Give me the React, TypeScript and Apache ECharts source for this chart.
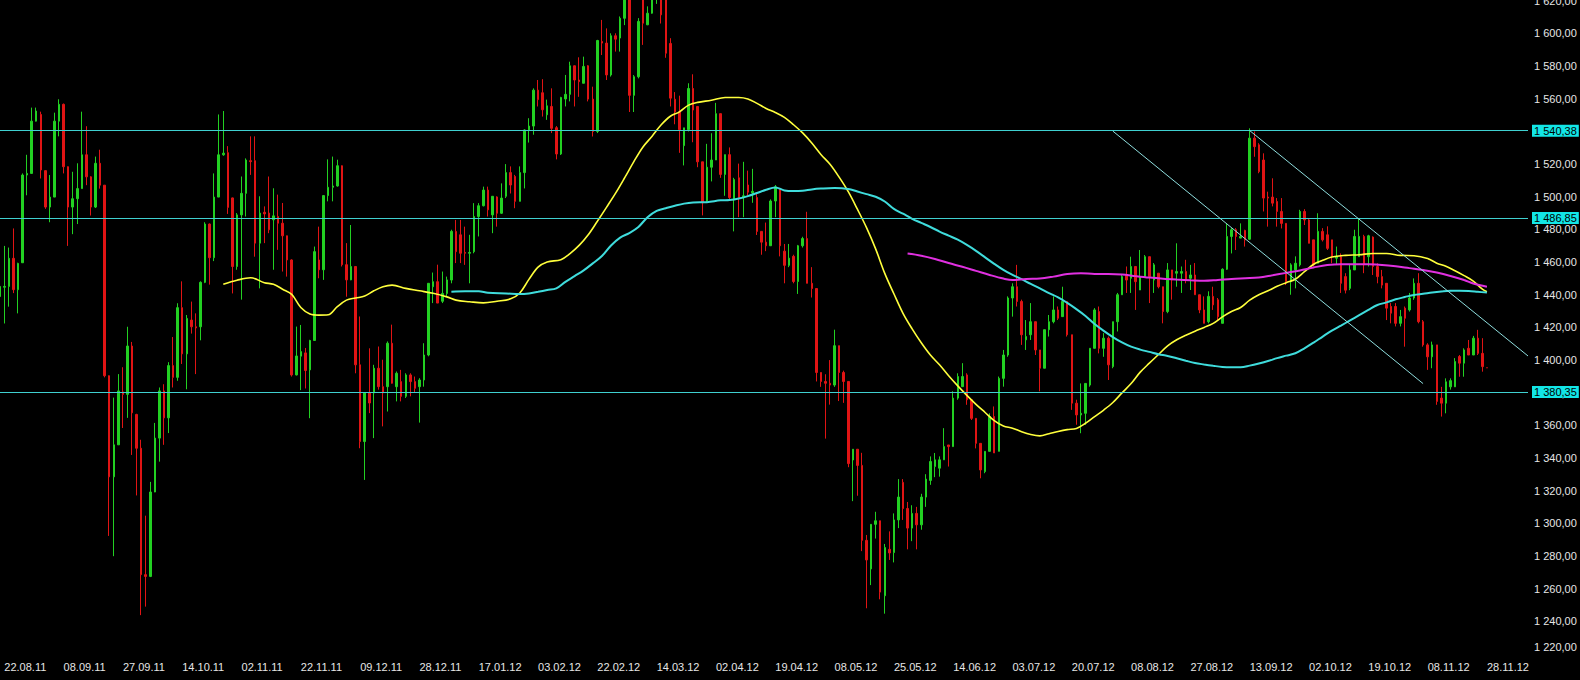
import React, { useEffect, useRef } from "react";
import * as echarts from "echarts";

// ---------- data ----------
const AXIS_SLOTS = 336; // bar slots on the time axis (last bars are empty space on the right)
const tickLabels = [
  "22.08.11", "08.09.11", "27.09.11", "14.10.11", "02.11.11", "22.11.11", "09.12.11",
  "28.12.11", "17.01.12", "03.02.12", "22.02.12", "14.03.12", "02.04.12", "19.04.12",
  "08.05.12", "25.05.12", "14.06.12", "03.07.12", "20.07.12", "08.08.12", "27.08.12",
  "13.09.12", "02.10.12", "19.10.12", "08.11.12", "28.11.12",
];
const TICK_START = 1;
const TICK_STEP = 13;

// [open, close, low, high]
const ohlc: number[][] = [
  [1438.8, 1445.0, 1407.9, 1461.6], [1444.5, 1445.0, 1422.3, 1469.8], [1445.0, 1462.2, 1432.6, 1468.8],
  [1462.2, 1443.0, 1440.9, 1480.5], [1443.0, 1459.1, 1428.5, 1459.5], [1459.5, 1513.2, 1459.5, 1514.2],
  [1513.2, 1514.2, 1500.8, 1525.6], [1514.2, 1546.2, 1514.2, 1554.5], [1546.2, 1552.4, 1546.0, 1554.5],
  [1550.3, 1516.3, 1511.1, 1552.0], [1515.9, 1493.6, 1492.5, 1516.0], [1493.6, 1499.7, 1484.3, 1513.2],
  [1499.7, 1546.2, 1499.7, 1551.4], [1546.2, 1556.5, 1536.9, 1559.6], [1556.5, 1518.3, 1514.2, 1557.0],
  [1518.3, 1493.6, 1469.8, 1518.5], [1493.6, 1498.7, 1477.0, 1515.2], [1498.7, 1504.9, 1483.2, 1520.4],
  [1504.9, 1525.6, 1504.9, 1552.0], [1525.6, 1512.1, 1507.0, 1543.1], [1512.1, 1493.6, 1488.4, 1512.5],
  [1493.6, 1520.4, 1493.0, 1524.5], [1520.4, 1507.0, 1504.9, 1528.7], [1507.0, 1390.3, 1389.3, 1507.0],
  [1390.3, 1328.4, 1292.2, 1390.5], [1328.4, 1348.0, 1279.8, 1376.9], [1348.0, 1381.0, 1348.0, 1391.3],
  [1380.4, 1378.9, 1358.3, 1395.5], [1378.9, 1408.5, 1364.5, 1420.3], [1408.5, 1367.6, 1341.8, 1411.0],
  [1366.6, 1345.9, 1317.0, 1367.0], [1345.9, 1268.5, 1243.7, 1351.1], [1268.5, 1267.4, 1248.9, 1304.6],
  [1267.4, 1319.1, 1267.0, 1325.3], [1319.1, 1352.1, 1319.0, 1361.4], [1352.1, 1381.0, 1337.7, 1383.1],
  [1381.0, 1364.5, 1348.0, 1385.1], [1364.5, 1396.5, 1355.2, 1398.6], [1396.5, 1389.3, 1383.1, 1414.0],
  [1389.3, 1432.0, 1387.2, 1434.7], [1432.0, 1403.7, 1397.5, 1448.1], [1403.7, 1425.4, 1382.0, 1427.5],
  [1424.4, 1420.3, 1416.1, 1435.7], [1420.3, 1419.6, 1391.3, 1428.5], [1420.3, 1447.5, 1412.0, 1448.1],
  [1447.5, 1483.2, 1447.0, 1484.3], [1483.2, 1462.6, 1446.1, 1483.5], [1462.6, 1499.7, 1460.5, 1514.2],
  [1499.7, 1525.6, 1499.7, 1550.3], [1525.6, 1526.6, 1525.0, 1552.4], [1526.9, 1493.4, 1489.4, 1530.9],
  [1499.2, 1457.2, 1440.7, 1499.4], [1457.2, 1488.8, 1455.2, 1489.9], [1488.8, 1502.0, 1436.9, 1512.3],
  [1502.0, 1522.4, 1487.8, 1523.4], [1522.0, 1521.4, 1513.3, 1536.9], [1522.0, 1471.5, 1463.2, 1536.9],
  [1471.5, 1489.9, 1443.8, 1500.2], [1490.4, 1489.4, 1471.5, 1494.0], [1489.9, 1479.7, 1477.6, 1512.3],
  [1485.8, 1488.2, 1455.2, 1505.1], [1487.8, 1483.7, 1467.4, 1501.2], [1483.7, 1476.0, 1454.1, 1496.1],
  [1476.0, 1461.2, 1451.0, 1476.1], [1461.2, 1390.8, 1389.8, 1461.6], [1390.8, 1402.4, 1390.5, 1420.4],
  [1402.3, 1405.1, 1381.5, 1421.4], [1404.3, 1393.5, 1382.5, 1407.3], [1393.9, 1411.9, 1364.3, 1412.3],
  [1411.9, 1466.3, 1411.9, 1469.4], [1461.2, 1455.2, 1450.0, 1481.6], [1455.2, 1500.6, 1449.0, 1500.9],
  [1500.6, 1505.7, 1497.1, 1522.8], [1505.7, 1506.5, 1497.1, 1524.5], [1506.5, 1518.9, 1506.1, 1522.6],
  [1518.9, 1458.3, 1457.2, 1519.1], [1458.3, 1449.0, 1438.7, 1471.5], [1449.0, 1457.2, 1448.8, 1482.6],
  [1457.2, 1397.0, 1391.8, 1457.3], [1397.0, 1350.0, 1345.9, 1426.6], [1350.0, 1379.8, 1326.5, 1379.8],
  [1379.8, 1373.6, 1367.4, 1407.1], [1379.8, 1394.9, 1352.1, 1397.0], [1394.9, 1383.6, 1381.8, 1408.2],
  [1383.6, 1379.8, 1359.3, 1400.1], [1383.6, 1410.2, 1368.4, 1411.3], [1410.2, 1385.7, 1385.5, 1421.6],
  [1383.6, 1391.8, 1374.6, 1392.9], [1386.7, 1377.7, 1374.6, 1393.9], [1377.7, 1390.8, 1376.7, 1391.8],
  [1390.8, 1386.7, 1377.7, 1391.8], [1386.7, 1382.6, 1379.8, 1389.8], [1383.6, 1387.7, 1361.6, 1388.8],
  [1387.7, 1403.0, 1383.6, 1410.2], [1403.0, 1446.9, 1402.2, 1446.9], [1444.8, 1447.9, 1434.8, 1453.5],
  [1447.9, 1434.8, 1434.8, 1458.3], [1435.9, 1440.7, 1434.8, 1454.1], [1440.7, 1449.0, 1439.0, 1451.0],
  [1448.9, 1478.7, 1446.9, 1479.7], [1478.7, 1466.3, 1459.3, 1485.7], [1476.6, 1465.3, 1459.3, 1485.7],
  [1465.8, 1465.3, 1458.2, 1481.6], [1465.3, 1465.8, 1446.9, 1476.6], [1466.3, 1487.8, 1465.3, 1496.0],
  [1487.8, 1494.4, 1475.6, 1496.0], [1494.4, 1504.0, 1494.0, 1506.1], [1504.0, 1491.9, 1487.8, 1506.1],
  [1488.8, 1500.2, 1477.6, 1500.2], [1499.8, 1489.8, 1481.6, 1500.2], [1489.8, 1499.1, 1489.4, 1508.1],
  [1500.2, 1514.7, 1499.1, 1519.9], [1514.7, 1507.1, 1501.9, 1518.5], [1512.3, 1497.1, 1492.9, 1513.3],
  [1497.1, 1514.7, 1497.1, 1518.5], [1514.7, 1540.8, 1505.0, 1541.2], [1540.8, 1543.2, 1533.1, 1548.0],
  [1543.2, 1565.2, 1537.9, 1566.3], [1565.2, 1559.4, 1555.2, 1571.4], [1563.6, 1553.2, 1549.0, 1571.9],
  [1550.1, 1555.6, 1547.0, 1559.4], [1555.2, 1541.8, 1538.9, 1566.3], [1542.2, 1526.1, 1522.8, 1543.2],
  [1526.1, 1560.7, 1525.5, 1561.1], [1559.8, 1562.6, 1555.2, 1574.5], [1562.6, 1580.1, 1558.3, 1582.6],
  [1580.1, 1571.4, 1555.2, 1580.3], [1571.4, 1570.4, 1561.1, 1585.3], [1569.4, 1579.7, 1569.4, 1585.7],
  [1580.1, 1559.7, 1558.3, 1580.5], [1559.7, 1539.9, 1536.8, 1567.3], [1539.9, 1595.6, 1538.9, 1596.0],
  [1595.0, 1594.0, 1586.7, 1608.2], [1594.0, 1574.5, 1571.4, 1603.0], [1574.5, 1598.5, 1573.5, 1600.0],
  [1598.5, 1596.4, 1588.8, 1600.0], [1597.1, 1609.2, 1588.8, 1610.3], [1609.2, 1621.0, 1605.0, 1624.0],
  [1621.0, 1562.0, 1551.8, 1624.0], [1562.0, 1573.4, 1551.8, 1574.4], [1573.4, 1607.3, 1572.4, 1609.3],
  [1621.0, 1606.2, 1592.9, 1625.0], [1605.2, 1612.3, 1605.0, 1616.5], [1612.3, 1625.0, 1612.0, 1630.0],
  [1622.0, 1628.0, 1618.0, 1634.0], [1626.0, 1611.3, 1606.0, 1630.0], [1621.0, 1587.8, 1585.0, 1625.0],
  [1593.8, 1560.3, 1555.2, 1597.0], [1559.6, 1551.9, 1544.3, 1564.0], [1551.9, 1541.0, 1526.8, 1561.8],
  [1531.2, 1542.1, 1519.1, 1542.1], [1541.0, 1566.2, 1539.9, 1569.4], [1566.2, 1553.0, 1533.3, 1574.9],
  [1555.2, 1521.3, 1518.0, 1555.2], [1521.3, 1496.2, 1488.5, 1521.3], [1497.3, 1518.0, 1496.2, 1532.3],
  [1518.0, 1522.4, 1509.3, 1538.8], [1522.4, 1550.8, 1522.4, 1557.4], [1550.8, 1513.6, 1511.5, 1550.8],
  [1513.6, 1525.7, 1500.5, 1525.7], [1525.7, 1499.4, 1497.3, 1530.1], [1498.3, 1510.4, 1478.7, 1511.5],
  [1511.5, 1499.4, 1487.4, 1520.2], [1499.4, 1500.5, 1487.4, 1521.3], [1507.1, 1502.7, 1500.5, 1515.9],
  [1502.3, 1503.2, 1496.2, 1517.0], [1499.4, 1478.7, 1476.5, 1502.7], [1478.7, 1472.1, 1464.4, 1478.7],
  [1472.1, 1469.9, 1466.6, 1484.1], [1469.9, 1497.3, 1469.9, 1498.3], [1497.3, 1506.0, 1487.4, 1507.1],
  [1504.9, 1469.9, 1463.4, 1504.9], [1466.6, 1457.9, 1446.9, 1471.0], [1457.9, 1462.3, 1456.8, 1471.0],
  [1463.4, 1448.0, 1446.9, 1464.4], [1448.0, 1469.9, 1440.4, 1470.4], [1469.9, 1474.3, 1468.8, 1475.4],
  [1474.3, 1446.9, 1446.9, 1490.7], [1446.9, 1443.7, 1438.2, 1456.8], [1443.7, 1392.3, 1386.8, 1443.7],
  [1392.3, 1386.8, 1383.5, 1392.3], [1386.8, 1385.7, 1351.8, 1391.2], [1385.7, 1384.6, 1372.6, 1399.9],
  [1384.6, 1408.7, 1383.5, 1418.5], [1408.7, 1392.3, 1374.8, 1408.7], [1392.3, 1386.8, 1373.7, 1393.4],
  [1386.8, 1336.5, 1334.3, 1386.8], [1338.7, 1345.3, 1313.5, 1345.3], [1345.3, 1335.4, 1316.8, 1345.3],
  [1335.4, 1289.5, 1282.9, 1343.1], [1289.5, 1277.5, 1247.9, 1292.8], [1272.0, 1299.3, 1262.1, 1299.3],
  [1299.3, 1301.5, 1290.6, 1307.0], [1301.5, 1257.8, 1253.4, 1301.5], [1255.6, 1285.1, 1244.6, 1287.3],
  [1284.0, 1281.8, 1277.5, 1295.0], [1282.0, 1302.0, 1276.0, 1306.0], [1302.0, 1316.0, 1297.0, 1327.0],
  [1325.0, 1309.0, 1302.0, 1327.0], [1309.0, 1297.0, 1284.0, 1313.0], [1297.0, 1306.0, 1289.0, 1311.0],
  [1306.0, 1299.0, 1284.0, 1310.0], [1299.0, 1316.0, 1296.0, 1318.0], [1316.0, 1327.0, 1310.0, 1330.0],
  [1326.2, 1337.8, 1323.5, 1340.9], [1334.7, 1338.8, 1328.2, 1343.0], [1333.7, 1338.8, 1328.5, 1340.9],
  [1338.8, 1346.9, 1338.8, 1358.2], [1347.9, 1346.9, 1334.7, 1347.9], [1346.9, 1376.6, 1346.9, 1380.8],
  [1376.6, 1389.8, 1375.6, 1391.8], [1383.6, 1389.8, 1383.6, 1398.0], [1390.8, 1375.6, 1372.5, 1391.8],
  [1375.6, 1364.2, 1363.2, 1375.6], [1364.2, 1348.9, 1345.8, 1364.2], [1348.9, 1332.6, 1327.5, 1348.9],
  [1331.6, 1344.0, 1330.6, 1344.0], [1344.0, 1365.3, 1344.0, 1367.3], [1365.3, 1343.0, 1343.0, 1371.5],
  [1344.0, 1388.7, 1344.0, 1389.8], [1388.7, 1403.0, 1383.6, 1406.1], [1403.0, 1437.9, 1401.9, 1438.9],
  [1437.9, 1444.8, 1426.5, 1446.9], [1444.8, 1435.8, 1432.7, 1458.2], [1435.8, 1415.4, 1409.2, 1436.9],
  [1412.3, 1414.3, 1406.1, 1424.4], [1415.4, 1423.4, 1412.2, 1434.8], [1423.4, 1406.1, 1403.0, 1423.4],
  [1406.1, 1394.9, 1380.8, 1406.1], [1394.9, 1418.5, 1394.9, 1418.5], [1418.5, 1423.4, 1414.3, 1427.5],
  [1423.4, 1430.6, 1422.4, 1438.9], [1430.6, 1425.5, 1424.4, 1432.7], [1426.5, 1435.8, 1426.5, 1444.8],
  [1435.8, 1415.4, 1414.3, 1435.8], [1415.4, 1373.5, 1369.4, 1415.4], [1373.5, 1366.3, 1360.3, 1375.6],
  [1366.3, 1367.3, 1355.1, 1385.6], [1367.3, 1385.6, 1360.3, 1385.6], [1384.6, 1407.1, 1383.6, 1407.1],
  [1407.1, 1430.6, 1407.1, 1431.7], [1429.6, 1407.1, 1404.0, 1432.7], [1407.1, 1413.3, 1401.9, 1416.4],
  [1413.3, 1397.0, 1387.7, 1414.3], [1395.9, 1423.4, 1394.9, 1423.4], [1423.4, 1439.9, 1417.4, 1441.0],
  [1439.9, 1451.0, 1439.9, 1452.0], [1452.0, 1448.9, 1441.0, 1457.2], [1450.0, 1457.2, 1441.0, 1463.2],
  [1457.2, 1447.9, 1430.6, 1457.2], [1442.8, 1451.0, 1442.8, 1467.3], [1451.0, 1463.2, 1451.0, 1464.2],
  [1463.2, 1451.0, 1434.8, 1463.2], [1448.9, 1458.2, 1441.0, 1459.3], [1453.1, 1444.8, 1443.8, 1453.1],
  [1444.8, 1429.6, 1422.4, 1444.8], [1429.6, 1455.1, 1428.6, 1459.3], [1455.1, 1448.9, 1436.9, 1455.1],
  [1453.1, 1454.1, 1444.8, 1471.4], [1453.1, 1454.1, 1441.0, 1457.2], [1454.1, 1448.9, 1446.9, 1461.3],
  [1450.0, 1452.0, 1442.8, 1458.2], [1452.0, 1439.9, 1439.9, 1459.3], [1439.9, 1430.6, 1428.6, 1439.9],
  [1430.6, 1422.4, 1422.4, 1438.9], [1423.4, 1438.9, 1422.4, 1442.0], [1438.9, 1433.7, 1430.6, 1444.8],
  [1436.8, 1426.5, 1424.4, 1437.9], [1422.4, 1455.5, 1422.4, 1456.1], [1455.5, 1475.6, 1455.1, 1483.6],
  [1475.6, 1479.7, 1465.2, 1480.7], [1479.7, 1475.6, 1467.3, 1480.7], [1474.6, 1475.6, 1474.5, 1483.6],
  [1479.3, 1473.5, 1469.4, 1479.7], [1473.9, 1535.8, 1473.5, 1541.8], [1535.8, 1530.6, 1524.4, 1539.9],
  [1531.7, 1515.3, 1514.3, 1532.7], [1522.4, 1499.1, 1490.9, 1526.5], [1499.7, 1499.1, 1481.6, 1503.0],
  [1499.7, 1496.0, 1494.0, 1511.2], [1497.0, 1490.9, 1481.6, 1499.1], [1490.9, 1483.6, 1480.5, 1499.1],
  [1483.6, 1447.9, 1445.8, 1483.6], [1447.9, 1458.2, 1439.9, 1459.2], [1455.1, 1459.2, 1443.8, 1463.4],
  [1458.2, 1490.9, 1457.2, 1491.9], [1490.9, 1485.7, 1482.6, 1492.3], [1485.7, 1471.4, 1471.4, 1486.7],
  [1473.5, 1458.2, 1457.2, 1473.5], [1459.2, 1478.7, 1459.2, 1489.8], [1478.7, 1473.5, 1472.5, 1480.7],
  [1476.6, 1468.3, 1467.3, 1481.8], [1473.5, 1463.2, 1459.2, 1473.5], [1462.3, 1463.2, 1458.2, 1469.4],
  [1463.2, 1446.9, 1441.0, 1465.2], [1451.0, 1442.7, 1440.7, 1453.1], [1443.8, 1455.1, 1442.7, 1458.2],
  [1455.1, 1475.6, 1455.1, 1479.7], [1463.2, 1475.6, 1463.2, 1486.7], [1475.6, 1458.2, 1453.1, 1476.6],
  [1463.2, 1476.0, 1457.2, 1476.6], [1475.2, 1457.2, 1452.0, 1475.6], [1457.2, 1451.0, 1446.9, 1459.2],
  [1451.0, 1445.8, 1443.8, 1455.1], [1446.9, 1431.7, 1424.4, 1446.9], [1432.7, 1428.6, 1422.4, 1434.8],
  [1432.7, 1422.4, 1420.5, 1434.8], [1422.4, 1426.5, 1420.5, 1430.6], [1431.7, 1425.5, 1408.1, 1432.7],
  [1430.6, 1437.9, 1429.6, 1441.0], [1437.9, 1446.9, 1436.8, 1449.9], [1446.9, 1423.4, 1422.4, 1453.1],
  [1423.4, 1409.2, 1408.1, 1424.4], [1409.2, 1401.9, 1393.9, 1410.2], [1401.9, 1409.2, 1394.9, 1411.2],
  [1409.2, 1374.6, 1372.5, 1409.2], [1376.6, 1373.5, 1365.3, 1383.5], [1373.5, 1386.6, 1367.3, 1388.7],
  [1383.5, 1387.3, 1381.8, 1388.7], [1383.5, 1399.0, 1383.5, 1401.1], [1402.1, 1398.0, 1389.7, 1403.0],
  [1398.0, 1406.1, 1389.7, 1407.1], [1407.1, 1403.0, 1403.0, 1412.2], [1403.0, 1413.3, 1403.0, 1414.7],
  [1413.3, 1404.0, 1403.0, 1418.4], [1404.0, 1395.9, 1392.8, 1413.3], [1395.19, 1395.19, 1395.19, 1395.19],
];

// moving averages: [bar index, value]
const maYellow: number[][] = [
  [49, 1446.3], [52, 1448.8], [55, 1450.3], [58, 1447.3], [60, 1446.3], [62, 1443.3], [64, 1440.1],
  [66, 1432.1], [68, 1428.1], [70, 1427.4], [72, 1427.6], [74, 1432.6], [76, 1436.6], [78, 1437.9],
  [80, 1439.1], [82, 1442.3], [84, 1444.8], [86, 1445.8], [89, 1443.8], [92, 1442.3], [95, 1440.8],
  [98, 1438.6], [100, 1436.6], [103, 1435.6], [106, 1434.9], [109, 1435.9], [112, 1437.4], [114, 1441.0],
  [116, 1449.3], [118, 1456.8], [120, 1460.0], [123, 1461.4], [125, 1465.1], [127, 1470.1], [129, 1476.6],
  [131, 1484.9], [133, 1493.4], [135, 1502.1], [137, 1511.6], [139, 1521.4], [141, 1530.4], [143, 1537.0],
  [145, 1544.0], [147, 1549.2], [149, 1551.9], [151, 1556.0], [153, 1557.7], [156, 1559.0], [159, 1560.7],
  [162, 1560.7], [164, 1559.8], [166, 1557.1], [168, 1554.0], [170, 1551.5], [172, 1548.5], [174, 1544.0],
  [176, 1539.0], [178, 1532.8], [180, 1525.8], [182, 1519.8], [184, 1511.9], [186, 1503.0], [188, 1492.3],
  [190, 1481.0], [192, 1468.0], [194, 1453.0], [196, 1440.5], [198, 1428.5], [200, 1419.0], [202, 1410.5],
  [204, 1403.0], [206, 1397.0], [208, 1390.3], [210, 1384.1], [212, 1378.3], [214, 1372.8], [216, 1367.8],
  [218, 1362.8], [220, 1359.5], [222, 1358.2], [224, 1356.0], [226, 1354.3], [228, 1353.5], [230, 1354.8],
  [232, 1356.2], [234, 1357.3], [236, 1358.0], [238, 1361.2], [240, 1365.3], [242, 1369.3], [244, 1373.9],
  [246, 1379.8], [248, 1385.5], [250, 1392.5], [252, 1398.0], [254, 1403.3], [256, 1408.6], [258, 1412.3],
  [260, 1415.1], [262, 1417.6], [264, 1419.9], [266, 1422.4], [268, 1426.3], [270, 1429.6], [272, 1432.1],
  [274, 1436.6], [276, 1439.9], [278, 1442.3], [280, 1445.1], [282, 1447.3], [284, 1449.4], [286, 1454.0],
  [288, 1458.6], [290, 1461.0], [292, 1463.0], [295, 1464.0], [298, 1464.4], [301, 1465.2], [304, 1465.2],
  [307, 1464.0], [310, 1463.8], [313, 1462.1], [315, 1459.2], [317, 1457.3], [319, 1454.6], [321, 1451.6],
  [323, 1448.3], [325, 1443.3], [326, 1441.7],
];
const maCyan: number[][] = [
  [99, 1441.8], [102, 1442.1], [105, 1442.1], [107, 1441.1], [111, 1440.7], [114, 1440.3], [116, 1440.7],
  [118, 1441.7], [120, 1442.8], [122, 1443.8], [124, 1447.8], [126, 1451.3], [128, 1454.8], [130, 1459.1],
  [132, 1463.6], [134, 1470.1], [136, 1474.9], [138, 1477.7], [140, 1481.4], [142, 1487.4], [144, 1491.3],
  [146, 1492.9], [148, 1494.4], [150, 1495.7], [152, 1496.4], [155, 1496.6], [158, 1497.7], [160, 1497.9],
  [162, 1498.8], [164, 1500.3], [166, 1502.2], [168, 1504.2], [170, 1505.6], [172, 1503.8], [174, 1503.4],
  [176, 1503.6], [178, 1504.4], [180, 1504.9], [183, 1505.3], [186, 1504.7], [188, 1503.1], [190, 1501.5],
  [192, 1499.9], [194, 1497.0], [196, 1492.5], [198, 1489.5], [200, 1486.4], [202, 1483.9], [204, 1481.4],
  [206, 1478.6], [208, 1476.1], [210, 1473.6], [212, 1470.4], [214, 1466.8], [216, 1462.8], [218, 1458.8],
  [220, 1455.1], [222, 1452.1], [224, 1449.4], [226, 1446.5], [228, 1443.8], [230, 1440.9], [232, 1438.3],
  [234, 1434.9], [236, 1431.1], [238, 1426.9], [240, 1422.0], [242, 1417.8], [244, 1414.0], [246, 1410.7],
  [248, 1408.1], [250, 1406.3], [252, 1404.9], [254, 1403.5], [256, 1402.4], [258, 1401.0], [260, 1399.5],
  [262, 1398.1], [264, 1397.2], [266, 1396.4], [268, 1395.7], [270, 1395.5], [272, 1395.5], [274, 1396.5],
  [276, 1397.8], [278, 1399.3], [280, 1401.1], [282, 1402.6], [284, 1404.1], [286, 1407.1], [288, 1410.6],
  [290, 1414.3], [292, 1417.9], [294, 1421.0], [296, 1424.2], [298, 1427.4], [300, 1430.6], [302, 1433.6],
  [304, 1435.2], [306, 1437.1], [308, 1438.5], [310, 1439.8], [312, 1440.5], [314, 1441.3], [316, 1441.9],
  [318, 1442.3], [320, 1442.3], [322, 1442.2], [324, 1441.7], [326, 1441.2],
];
const maMagenta: number[][] = [
  [199, 1465.1], [202, 1463.8], [205, 1461.8], [208, 1459.3], [211, 1457.0], [214, 1454.5], [217, 1452.0],
  [220, 1449.8], [222, 1448.9], [225, 1449.6], [228, 1449.8], [231, 1451.0], [234, 1452.6], [237, 1453.1],
  [240, 1452.6], [243, 1452.6], [246, 1452.3], [249, 1451.3], [252, 1450.4], [255, 1449.7], [258, 1449.2],
  [261, 1448.8], [264, 1448.5], [267, 1449.0], [270, 1449.6], [273, 1450.0], [276, 1450.4], [279, 1451.8],
  [282, 1453.3], [285, 1454.8], [288, 1456.6], [291, 1458.1], [294, 1458.6], [297, 1458.6], [300, 1458.5],
  [303, 1458.1], [306, 1457.3], [309, 1456.2], [312, 1455.1], [315, 1453.5], [318, 1451.4], [321, 1448.9],
  [323, 1446.8], [326, 1444.8],
];

const levels = [1540.38, 1486.85, 1380.35];
const lastPrice = 1395.19;
const BOTTOM_TICK = 1220; // the lowest price label sits a little higher, clear of the date row
// channel lines: [[startBar, startValue], [endBar, endValue]]
const channelLines: number[][][] = [
  [[244, 1540.1], [312, 1385.5]],
  [[274, 1540.4], [335, 1402.4]],
];

// ---------- helpers ----------
const fmt = (v: number) => {
  const [i, d] = v.toFixed(2).split(".");
  return i.replace(/\B(?=(\d{3})+(?!\d))/g, " ") + "," + d;
};

const FONT = "Liberation Sans";
const UP = "#22d022";
const DOWN = "#e01414";
const LEVEL = "#3fd0d0";
const AXIS_TEXT = "#e6e6e6";

export default function App() {
  const ref = useRef<HTMLDivElement>(null);

  useEffect(() => {
    if (!ref.current) return;
    const chart = echarts.init(ref.current, undefined, { renderer: "svg" });
    const categories = Array.from({ length: AXIS_SLOTS }, (_, i) => String(i));
    const isTick = (i: number) =>
      i >= TICK_START && (i - TICK_START) % TICK_STEP === 0 &&
      (i - TICK_START) / TICK_STEP < tickLabels.length;

    const levelMarks = levels.map((v) => ({
      yAxis: v,
      lineStyle: { color: LEVEL, width: 1, type: "solid" as const },
      label: {
        show: true,
        position: "end" as const,
        distance: 4,
        formatter: fmt(v),
        backgroundColor: "#12e6e6",
        color: "#000",
        padding: [1, 2, 0, 2],
        fontFamily: FONT,
        fontSize: 11,
      },
    }));
    const priceMark = {
      yAxis: lastPrice,
      lineStyle: { opacity: 0, width: 0 },
      label: {
        show: true,
        position: "end" as const,
        distance: 4,
        formatter: fmt(lastPrice),
        backgroundColor: "#2ee01a",
        color: "#56640c",
        padding: [1, 2, 0, 2],
        fontFamily: FONT,
        fontSize: 11,
      },
    };
    const channelMarks = channelLines.map(([a, b]) => [
      { coord: a, lineStyle: { color: "#8fdede", width: 1, type: "solid" as const }, label: { show: false } },
      { coord: b },
    ]);

    const maSeries = (data: number[][], color: string, width: number) => ({
      type: "line" as const,
      data,
      smooth: 0.35,
      showSymbol: false,
      symbol: "none",
      lineStyle: { color, width },
      z: 4,
      silent: true,
    });

    chart.setOption({
      animation: false,
      backgroundColor: "#000",
      grid: {
        left: -0.26,
        width: 1528.26,
        top: -32.02,
        height: 718.52,
        containLabel: false,
        outerBoundsMode: "none",
      },
      xAxis: {
        type: "category",
        data: categories,
        boundaryGap: false,
        offset: -33.5,
        axisLine: { show: false },
        axisTick: { show: false },
        splitLine: { show: false },
        axisLabel: {
          interval: (i: number) => isTick(i),
          formatter: (_v: string, i: number) => (isTick(i) ? tickLabels[(i - TICK_START) / TICK_STEP] : ""),
          align: "left",
          margin: 8,
          color: AXIS_TEXT,
          fontFamily: FONT,
          fontSize: 11,
        },
      },
      yAxis: {
        type: "value",
        position: "right",
        min: 1200,
        max: 1640,
        interval: 20,
        axisLine: { show: false },
        axisTick: { show: false },
        splitLine: { show: false },
        axisLabel: {
          showMinLabel: false,
          showMaxLabel: false,
          margin: 6,
          color: AXIS_TEXT,
          fontFamily: FONT,
          fontSize: 11,
          formatter: (v: number) => (v === BOTTOM_TICK ? `{low|${fmt(v)}}` : fmt(v)),
          rich: {
            low: {
              color: AXIS_TEXT,
              fontFamily: FONT,
              fontSize: 11,
              padding: [0, 0, 14, 0],
            },
          },
        },
      },
      series: [
        {
          type: "candlestick",
          data: ohlc,
          barWidth: 2,
          z: 2,
          silent: true,
          itemStyle: {
            color: UP,
            color0: DOWN,
            borderColor: UP,
            borderColor0: DOWN,
            borderWidth: 1,
          },
          markLine: {
            silent: true,
            symbol: ["none", "none"],
            z: 6,
            data: [...levelMarks, priceMark, ...channelMarks],
          },
        },
        maSeries(maYellow, "#ffff3c", 1.6),
        maSeries(maCyan, "#3fdcdc", 2),
        maSeries(maMagenta, "#e030e0", 2),
      ],
    });
    return () => chart.dispose();
  }, []);

  return (
    <div
      ref={ref}
      style={{ position: "fixed", left: 0, top: 0, width: 1580, height: 680, background: "#000" }}
    />
  );
}
